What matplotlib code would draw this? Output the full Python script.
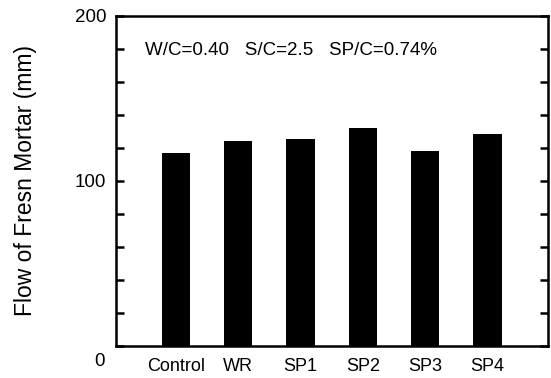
import matplotlib
matplotlib.use('Agg')
import matplotlib.pyplot as plt
from matplotlib.ticker import MultipleLocator, FuncFormatter

plt.rcParams['font.family'] = ['Liberation Sans', 'DejaVu Sans']

mixes = ['Control', 'WR', 'SP1', 'SP2', 'SP3', 'SP4']
flow = [117, 124, 125.5, 132, 118, 128.5]

fig = plt.figure(figsize=(5.51, 3.78), dpi=100)
ax = fig.add_axes([0.2105, 0.085, 0.784, 0.873])

x = range(len(mixes))
ax.bar(x, flow, width=0.45, color='black')

ax.set_xlim(-0.96, 5.97)
ax.set_ylim(0, 200)
ax.set_xticks(list(x))
ax.set_xticklabels(mixes, fontsize=13)
ax.tick_params(axis='x', length=0, pad=9)

ax.yaxis.set_major_locator(MultipleLocator(100))
ax.yaxis.set_minor_locator(MultipleLocator(20))
# zero label sits a bit lower than the others, drawn separately below
ax.yaxis.set_major_formatter(FuncFormatter(lambda v, p: '' if v == 0 else f'{v:.0f}'))
ax.tick_params(axis='y', which='both', direction='in', length=6, width=1.8,
               right=True, labelsize=13.5, pad=7)
ax.annotate('0', xy=(0, 0), xycoords=('axes fraction', 'data'),
            xytext=(-8, -11), textcoords='offset points',
            ha='right', va='center', fontsize=13.5)

ax.set_ylabel('Flow of Fresn Mortar (mm)', fontsize=16.5)
ax.yaxis.set_label_coords(-0.183, 0.5)

for s in ax.spines.values():
    s.set_linewidth(1.8)

ax.text(0.067, 0.894, 'W/C=0.40   S/C=2.5   SP/C=0.74%', transform=ax.transAxes,
        fontsize=13.5, va='center')

fig.savefig('out.png', dpi=100)
